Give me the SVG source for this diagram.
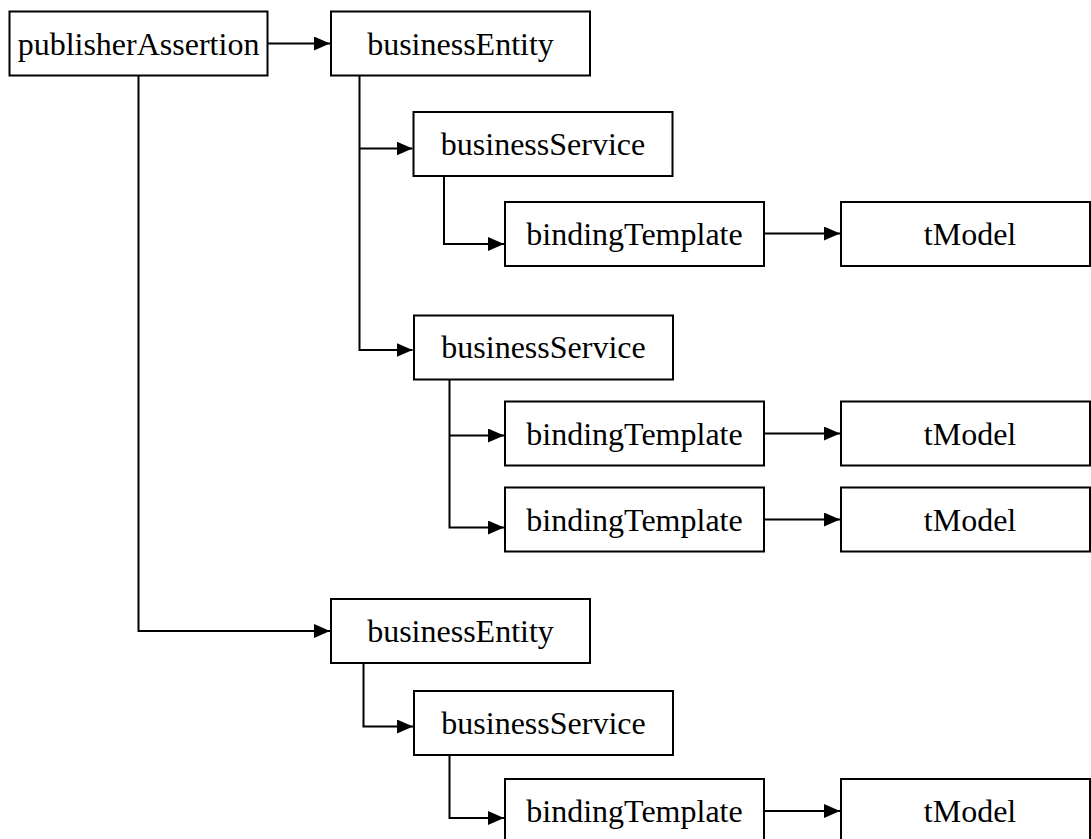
<svg xmlns="http://www.w3.org/2000/svg" width="1091" height="839" viewBox="0 0 1091 839">
<style>
.box{fill:#fff;stroke:#000;stroke-width:2}
.lbl{font-family:"Liberation Serif","Times New Roman",serif;font-size:32px;fill:#000;text-anchor:middle}
.con{fill:none;stroke:#000;stroke-width:2}
</style>
<defs>
<marker id="arr" markerUnits="userSpaceOnUse" markerWidth="16" markerHeight="14" refX="16" refY="7" orient="auto">
<path d="M0,0 L16,7 L0,14 z" fill="#000"/>
</marker>
</defs>
<rect width="1091" height="839" fill="#fff"/>
<g id="connectors">
<path class="con" d="M268,43.5 H330" marker-end="url(#arr)"/>
<path class="con" d="M138.5,75.5 V631 H330" marker-end="url(#arr)"/>
<path class="con" d="M359.5,75.5 V350 H412.5" marker-end="url(#arr)"/>
<path class="con" d="M359.5,148.5 H412.5" marker-end="url(#arr)"/>
<path class="con" d="M444,176 V244 H504" marker-end="url(#arr)"/>
<path class="con" d="M764,233.5 H840" marker-end="url(#arr)"/>
<path class="con" d="M449.5,379.5 V527.5 H504" marker-end="url(#arr)"/>
<path class="con" d="M449.5,435.5 H504" marker-end="url(#arr)"/>
<path class="con" d="M764,433.5 H840" marker-end="url(#arr)"/>
<path class="con" d="M764,519.5 H840" marker-end="url(#arr)"/>
<path class="con" d="M363.5,663 V726.5 H413" marker-end="url(#arr)"/>
<path class="con" d="M449.5,755 V818 H504" marker-end="url(#arr)"/>
<path class="con" d="M764,811 H840" marker-end="url(#arr)"/>
</g>
<g id="publisherAssertion"><rect class="box" x="9.5" y="11.5" width="258" height="64"/><text class="lbl" x="138.5" y="55">publisherAssertion</text></g>
<g id="businessEntity1"><rect class="box" x="331" y="11.5" width="259" height="64"/><text class="lbl" x="460.5" y="55">businessEntity</text></g>
<g id="businessService1"><rect class="box" x="413.5" y="112" width="259" height="64"/><text class="lbl" x="543" y="155">businessService</text></g>
<g id="bindingTemplate1"><rect class="box" x="505" y="202" width="259" height="64"/><text class="lbl" x="634.5" y="245">bindingTemplate</text></g>
<g id="tModel1"><rect class="box" x="841" y="202" width="249" height="64"/><text class="lbl" x="970" y="245">tModel</text></g>
<g id="businessService2"><rect class="box" x="414" y="315.5" width="259" height="64"/><text class="lbl" x="543.5" y="358">businessService</text></g>
<g id="bindingTemplate2"><rect class="box" x="505" y="401.5" width="259" height="64"/><text class="lbl" x="634.5" y="444.5">bindingTemplate</text></g>
<g id="tModel2"><rect class="box" x="841" y="401.5" width="249" height="64"/><text class="lbl" x="970" y="444.5">tModel</text></g>
<g id="bindingTemplate3"><rect class="box" x="505" y="487.5" width="259" height="64"/><text class="lbl" x="634.5" y="530.5">bindingTemplate</text></g>
<g id="tModel3"><rect class="box" x="841" y="487.5" width="249" height="64"/><text class="lbl" x="970" y="530.5">tModel</text></g>
<g id="businessEntity2"><rect class="box" x="331" y="599" width="259" height="64"/><text class="lbl" x="460.5" y="642">businessEntity</text></g>
<g id="businessService3"><rect class="box" x="414" y="691" width="259" height="64"/><text class="lbl" x="543.5" y="734">businessService</text></g>
<g id="bindingTemplate4"><rect class="box" x="505" y="779" width="259" height="64"/><text class="lbl" x="634.5" y="822">bindingTemplate</text></g>
<g id="tModel4"><rect class="box" x="841" y="779" width="249" height="64"/><text class="lbl" x="970" y="822">tModel</text></g>
</svg>
